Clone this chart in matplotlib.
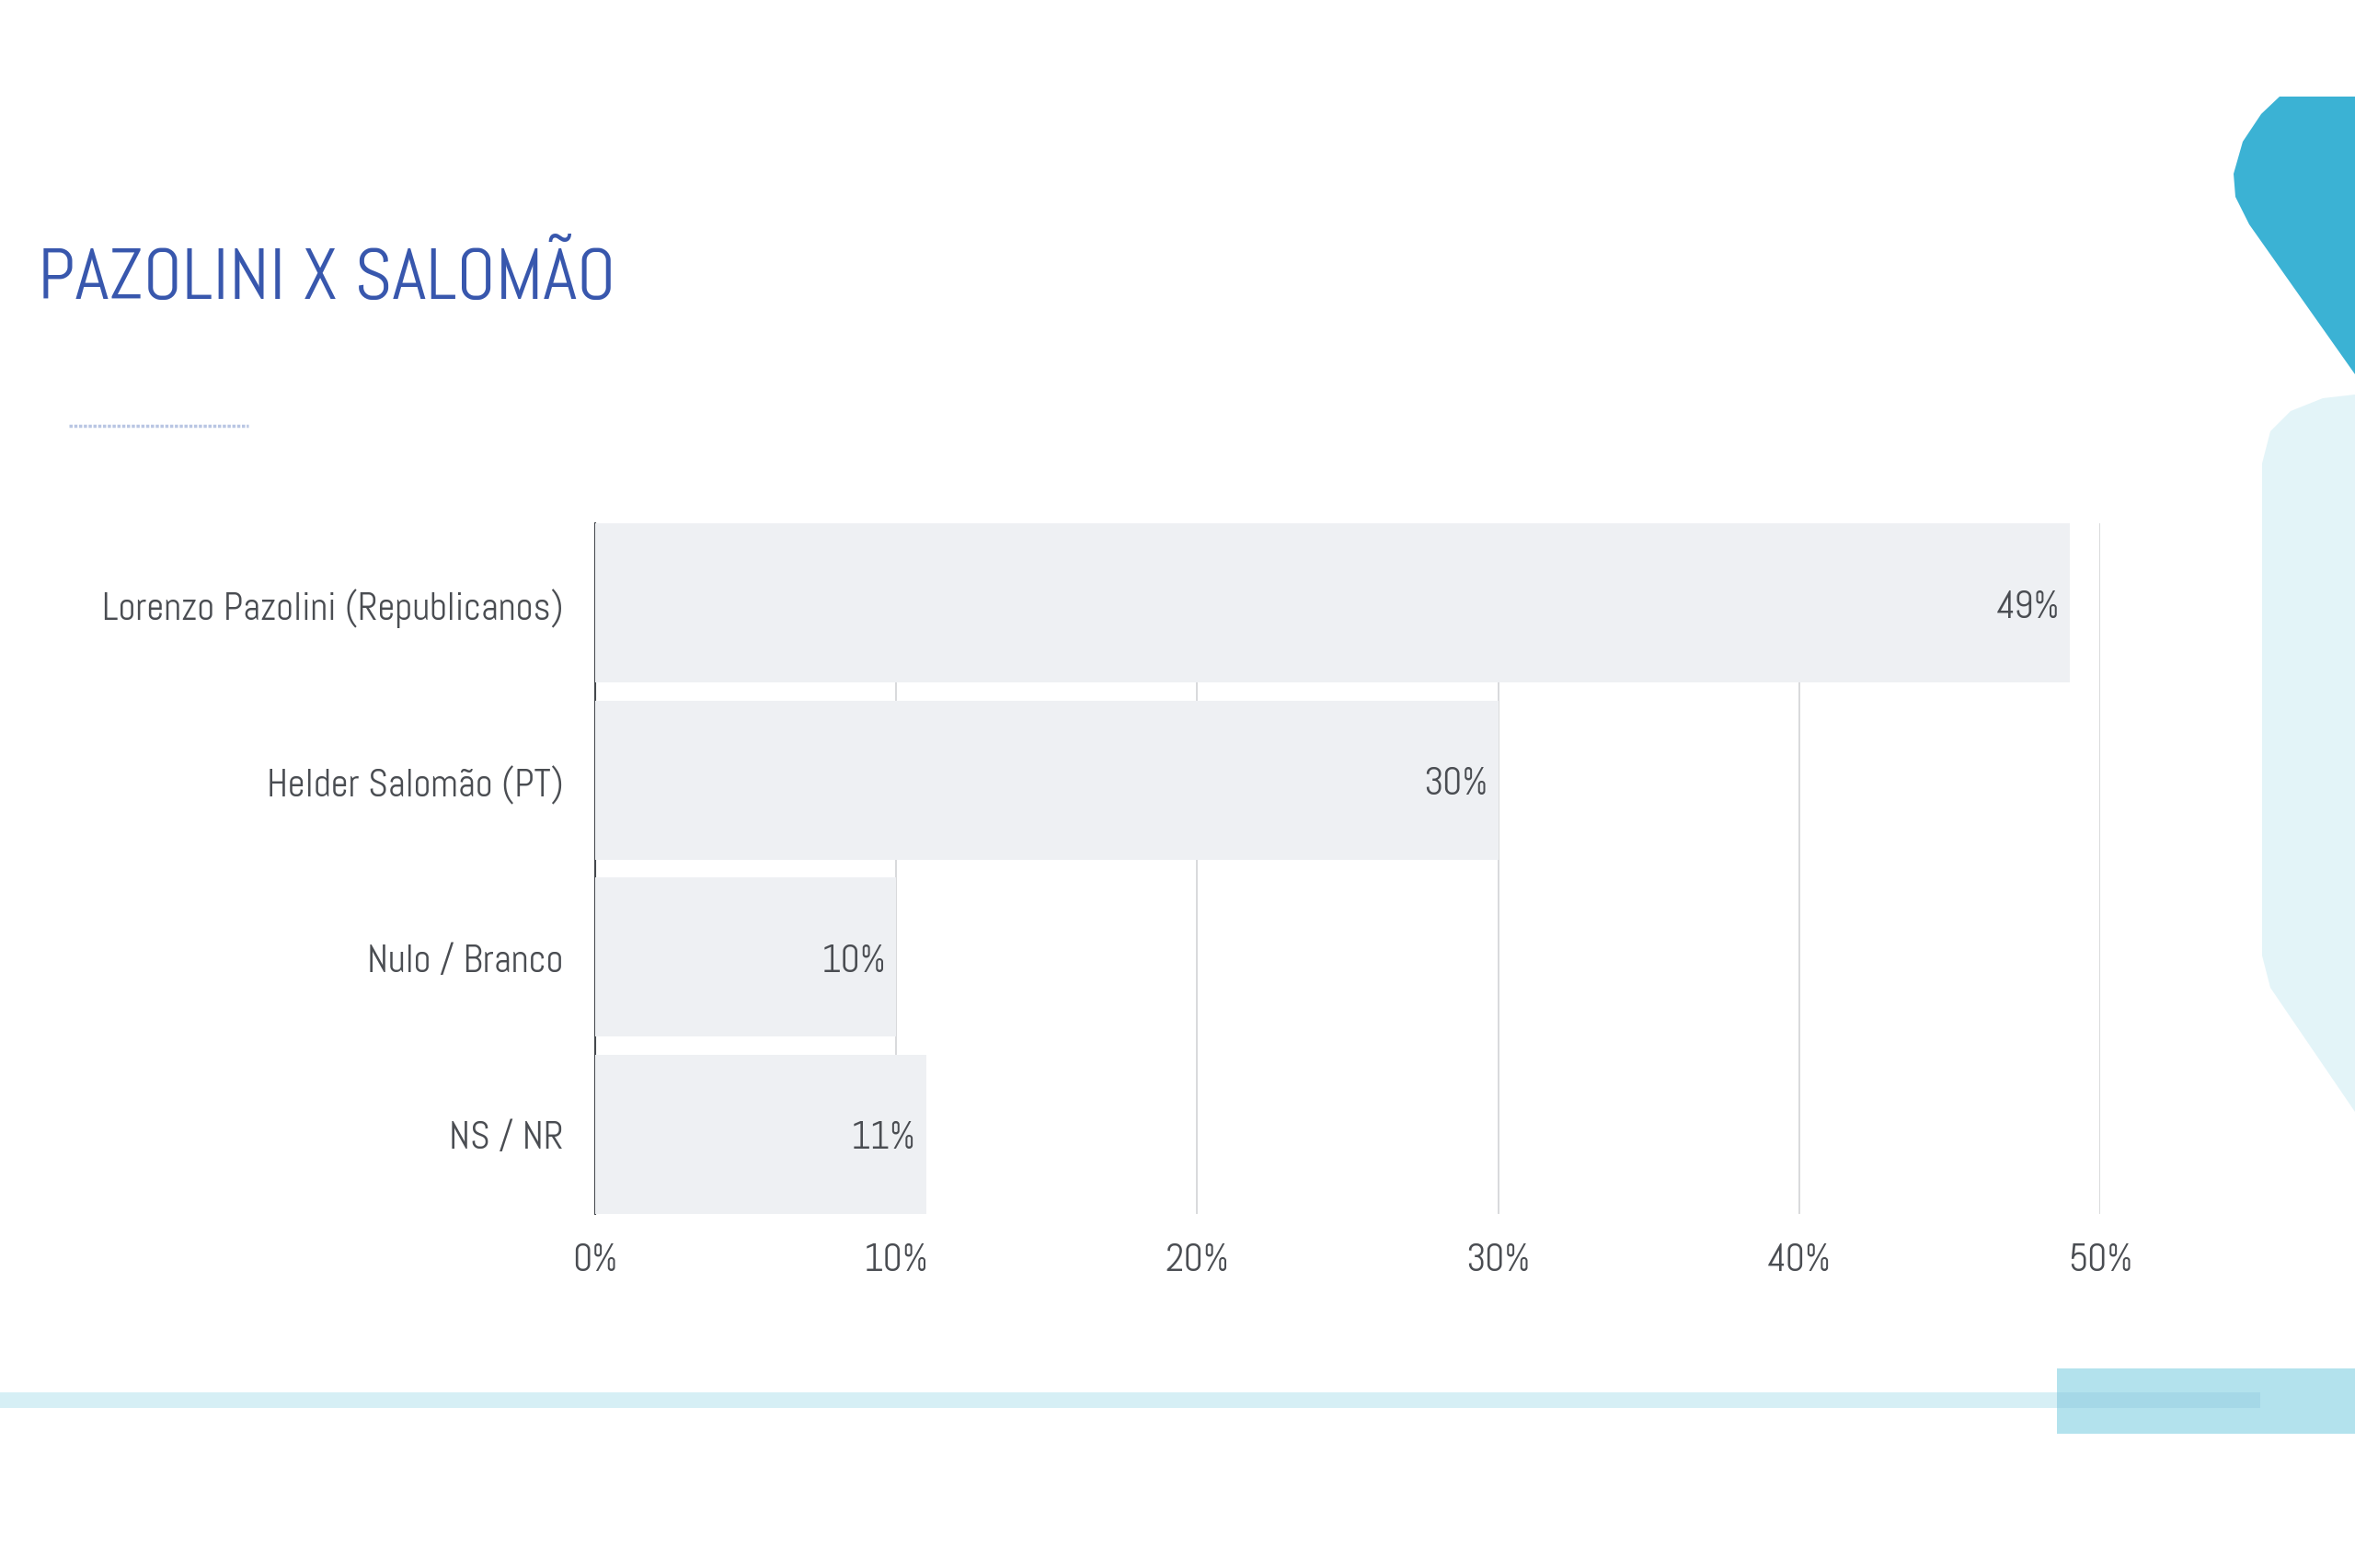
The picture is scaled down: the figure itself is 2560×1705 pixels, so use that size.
import matplotlib.pyplot as plt
from matplotlib.patches import Polygon, Rectangle
from matplotlib.lines import Line2D

categories = ["Lorenzo Pazolini (Republicanos)", "Helder Salomão (PT)", "Nulo / Branco", "NS / NR"]
values = [49, 30, 10, 11]
xticks = [0, 10, 20, 30, 40, 50]
title = "PAZOLINI X SALOMÃO"

W, H = 2560, 1706
plt.rcParams['font.family'] = ['Abel', 'DejaVu Sans']

fig = plt.figure(figsize=(W / 100, H / 100), dpi=100)
fig.patch.set_facecolor("white")


def fx(x):
    return x / W


def fy(y):
    return 1 - y / H


# decorative shapes on the right
dark = [(2478, 106), (2560, 106), (2560, 408), (2445, 245), (2430, 215), (2428, 190), (2438, 155), (2458, 125)]
fig.patches.append(Polygon([(fx(x), fy(y)) for x, y in dark], closed=True,
                           transform=fig.transFigure, facecolor="#3bb2d4", edgecolor="none", zorder=0))
light = [(2560, 430), (2525, 434), (2490, 448), (2468, 470), (2459, 505), (2459, 1040),
         (2468, 1075), (2560, 1210)]
fig.patches.append(Polygon([(fx(x), fy(y)) for x, y in light], closed=True,
                           transform=fig.transFigure, facecolor="#e3f4f8", edgecolor="none", zorder=0))

# bottom band
fig.patches.append(Rectangle((fx(0), fy(1532)), fx(2457), 17 / H, transform=fig.transFigure,
                             facecolor="#d6eff5", edgecolor="none", zorder=0))
fig.patches.append(Rectangle((fx(2236), fy(1560)), fx(324), 71 / H, transform=fig.transFigure,
                             facecolor="#b3e2ed", edgecolor="none", zorder=0))
fig.patches.append(Rectangle((fx(2236), fy(1532)), fx(221), 17 / H, transform=fig.transFigure,
                             facecolor="#a5d8e7", edgecolor="none", zorder=0))

# title and small rule
fig.text(fx(41), fy(325), title, fontsize=57, color="#3857ad", va="baseline", ha="left")
fig.lines.append(Line2D([fx(75), fx(270)], [fy(464), fy(464)], transform=fig.transFigure,
                        color="#b9c6e3", linewidth=2.5, linestyle=(0, (1, 0.5))))

ax = fig.add_axes([fx(647), fy(1321), fx(2283 - 647), (1321 - 570) / H])
ax.set_facecolor("none")
ypos = list(range(len(categories)))
ax.barh(ypos, values, height=0.9, color="#eef0f3", zorder=2)
for y, v in zip(ypos, values):
    ax.annotate(f"{v}%", (v, y), xytext=(-8, 0), textcoords="offset points",
                ha="right", va="center_baseline", fontsize=30, color="#4a4d52", zorder=3)

ax.set_xlim(0, 50)
ax.set_ylim(len(categories) - 0.55, -0.45)
ax.set_xticks(xticks)
ax.set_xticklabels([f"{t}%" for t in xticks])
ax.set_yticks(ypos)
ax.set_yticklabels(categories)
ax.tick_params(axis="both", length=0, labelsize=30, labelcolor="#4a4d52")
ax.tick_params(axis="y", pad=25)
ax.tick_params(axis="x", pad=22)
ax.grid(axis="x", color="#d2d3d6", linewidth=1.2, zorder=0.5)
ax.set_axisbelow(True)
for s in ["top", "right", "bottom"]:
    ax.spines[s].set_visible(False)
ax.spines["left"].set_color("#44484d")
ax.spines["left"].set_linewidth(1.5)
ax.spines["left"].set_zorder(0.6)

fig.savefig("out.png", dpi=100)
